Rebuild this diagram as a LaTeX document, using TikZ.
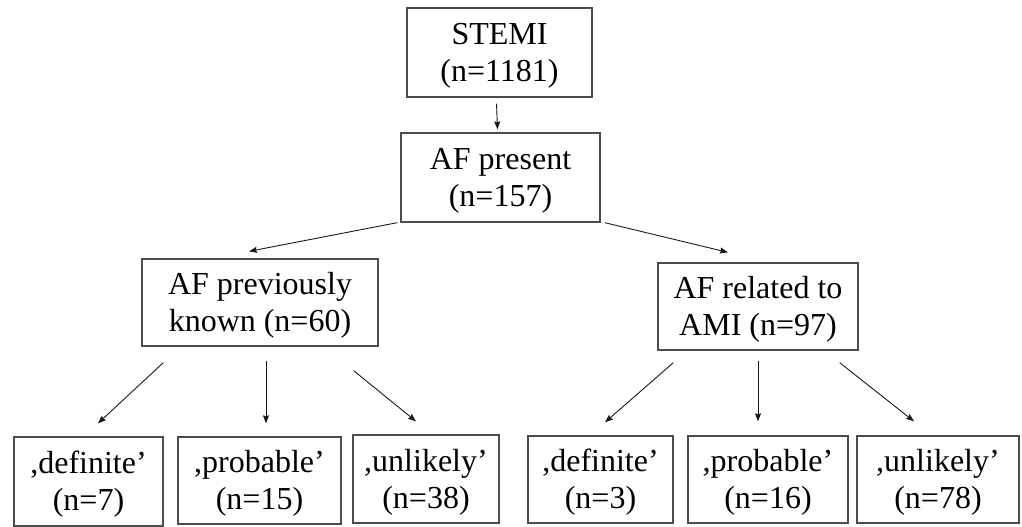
\documentclass[tikz,border=0pt]{standalone}
\usepackage{fontspec}
\setmainfont{Liberation Serif}
\usepackage{tikz}
\usetikzlibrary{positioning,arrows.meta}

\begin{document}
\begin{tikzpicture}[x=1pt,y=-1pt,>={Stealth[length=8pt,width=6pt,inset=1pt]},
    box/.style={rectangle,draw=black!70,line width=1.3pt,align=center,inner sep=0pt,
      text height=58pt,text depth=0pt,font=\fontsize{32}{37}\selectfont},
    arr/.style={->,draw=black!90,line width=0.9pt}]
  \useasboundingbox (0,0) rectangle (1022,527);

  \node[box,minimum width=185pt,minimum height=89pt] (stemi) at (499.5,52.5) {STEMI\\(n=1181)};
  \node[box,minimum width=199pt,minimum height=89pt] (pres)  at (500.5,177.5) {AF present\\(n=157)};
  \node[box,minimum width=236pt,minimum height=87pt] (prev)  at (260,302.5) {AF previously\\known (n=60)};
  \node[box,minimum width=200pt,minimum height=87pt] (rel)   at (758,306.5) {AF related to\\AMI (n=97)};

  % lower row
  \node[box,minimum width=149pt,minimum height=89pt] (def1)  at (88.5,481.5) {,definite’\\(n=7)};
  \node[box,minimum width=163pt,minimum height=87pt] (prob1) at (259.5,480.5) {,probable’\\(n=15)};
  \node[box,minimum width=146pt,minimum height=88pt] (unl1)  at (426,479) {,unlikely’\\(n=38)};
  \node[box,minimum width=145pt,minimum height=87pt] (def2)  at (600.5,479.5) {,definite’\\(n=3)};
  \node[box,minimum width=160pt,minimum height=87pt] (prob2) at (768,479.5) {,probable’\\(n=16)};
  \node[box,minimum width=162pt,minimum height=87pt] (unl2)  at (938,479.5) {,unlikely’\\(n=78)};

  \path ([xshift=-3pt,yshift=-6pt]stemi.south) edge[arr] ([xshift=-3pt,yshift=3pt]pres.north);
  \path ([xshift=-3pt]pres.south west) edge[arr] ([xshift=-11pt,yshift=7pt]prev.north);
  \path ([xshift=4pt]pres.south east) edge[arr] ([xshift=-30pt,yshift=10pt]rel.north);

  \path ([xshift=22pt,yshift=-16pt]prev.south west) edge[arr] ([xshift=9.5pt,yshift=13pt]def1.north);
  \path ([xshift=6pt,yshift=-14pt]prev.south) edge[arr] ([xshift=6.5pt,yshift=13pt]prob1.north);
  \path ([xshift=-25pt,yshift=-24pt]prev.south east) edge[arr] ([xshift=-10pt,yshift=13pt]unl1.north);

  \path ([xshift=16pt,yshift=-12pt]rel.south west) edge[arr] ([xshift=4.5pt,yshift=13pt]def2.north);
  \path ([yshift=-10pt]rel.south) edge[arr] ([xshift=-10pt,yshift=14pt]prob2.north);
  \path ([xshift=-19pt,yshift=-12pt]rel.south east) edge[arr] ([xshift=-24pt,yshift=14pt]unl2.north);
\end{tikzpicture}
\end{document}
